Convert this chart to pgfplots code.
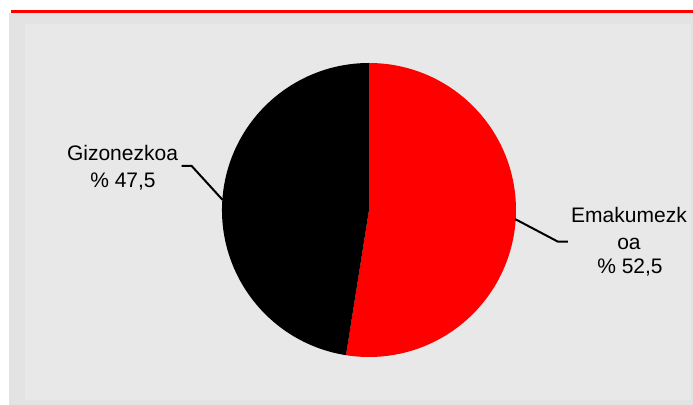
\documentclass[border=0pt]{standalone}
\usepackage{pgfplots}
\pgfplotsset{compat=1.18}
\usepackage{pgfplotstable}
\usepackage{fontspec}
\setmainfont{Liberation Sans}
\definecolor{outergray}{HTML}{E3E3E3}
\definecolor{innergray}{HTML}{E8E8E8}
\definecolor{piered}{HTML}{FF0000}
\pgfplotstableread{
label value
Emakumezkoa 52.5
Gizonezkoa 47.5
}\piedata
\begin{document}
\begin{tikzpicture}
\pgfplotstablegetelem{0}{value}\of\piedata \let\valA\pgfplotsretval
\pgfplotstablegetelem{1}{value}\of\piedata \let\valB\pgfplotsretval
\pgfmathsetmacro{\angA}{90-3.6*\valA}
\pgfmathsetmacro{\angB}{\angA-3.6*\valB}
\begin{axis}[scale only axis, width=346.5pt, height=202.5pt,
  xmin=0, xmax=693, ymin=0, ymax=405, y dir=reverse,
  axis lines=none, clip=false]
\fill[white] (axis cs:0,0) rectangle (axis cs:693,405);
\fill[outergray] (axis cs:9,13) rectangle (axis cs:693,405);
\fill[innergray] (axis cs:25,24) rectangle (axis cs:691,400);
\fill[piered] (axis cs:11,10.5) rectangle (axis cs:693,13);
\fill[piered] (axis cs:369,210) -- ++(90:73.5pt) arc[start angle=90, end angle=\angA, radius=73.5pt] -- cycle;
\fill[black] (axis cs:369,210) -- ++(\angA:73.5pt) arc[start angle=\angA, end angle=\angB, radius=73.5pt] -- cycle;
\draw[line width=1pt] (axis cs:181.7,166) -- (axis cs:191.7,166) -- (axis cs:222.7,200);
\draw[line width=1pt] (axis cs:568,241.7) -- (axis cs:558,241.7) -- (axis cs:515,219);
\begin{scope}[every node/.style={font=\fontsize{10.5}{13}\selectfont, inner sep=0pt, anchor=base}]
\node at (axis cs:122.5,160.7) {Gizonezkoa};
\node at (axis cs:123,187.3) {\% 47,5};
\node at (axis cs:629,223) {Emakumezk};
\node at (axis cs:629,249.5) {oa};
\node at (axis cs:630,274) {\% 52,5};
\end{scope}
\end{axis}
\end{tikzpicture}
\end{document}
